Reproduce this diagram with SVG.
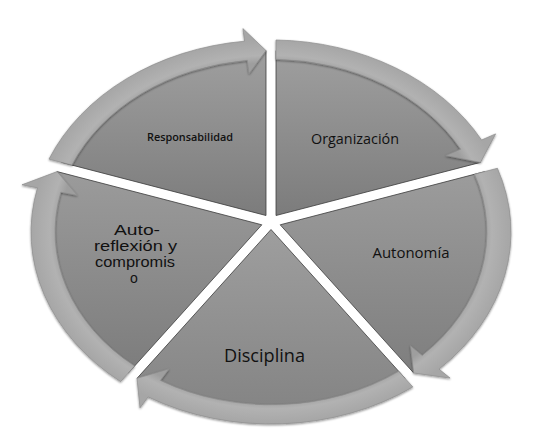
<svg xmlns="http://www.w3.org/2000/svg" width="539" height="448" viewBox="0 0 539 448">
<style>
.wedge{stroke:#3c3c3c;stroke-width:0.8;stroke-linejoin:round}
.band{fill:url(#bandGrad);stroke:#8e8e8e;stroke-width:0.7;stroke-linejoin:round;filter:url(#sh)}
.lbl{font-family:"Open Sans","Liberation Sans",sans-serif;fill:#111111;text-anchor:middle}
.ml{font-family:"Liberation Sans",Arial,sans-serif;fill:#111111;text-anchor:middle;font-size:14px}
</style>
<defs>
<filter id="sh" x="-10%" y="-10%" width="120%" height="120%">
<feDropShadow dx="0" dy="1" stdDeviation="1.2" flood-color="#000" flood-opacity="0.45"/>
</filter>
<radialGradient id="bandGrad" gradientUnits="userSpaceOnUse" cx="271" cy="232" r="240" gradientTransform="translate(271 232) scale(1 0.8) translate(-271 -232)">
<stop offset="0.88" stop-color="#9e9e9e"/>
<stop offset="0.92" stop-color="#b2b2b2"/>
<stop offset="1" stop-color="#a6a6a6"/>
</radialGradient>
<linearGradient id="g0" gradientUnits="userSpaceOnUse" x1="0" y1="45" x2="0" y2="215"><stop offset="0" stop-color="#a0a0a0"/><stop offset="1" stop-color="#7c7c7c"/></linearGradient>
<linearGradient id="g1" gradientUnits="userSpaceOnUse" x1="0" y1="172" x2="0" y2="375"><stop offset="0" stop-color="#9c9c9c"/><stop offset="1" stop-color="#7e7e7e"/></linearGradient>
<linearGradient id="g2" gradientUnits="userSpaceOnUse" x1="0" y1="230" x2="0" y2="412"><stop offset="0" stop-color="#9e9e9e"/><stop offset="1" stop-color="#848484"/></linearGradient>
<linearGradient id="g3" gradientUnits="userSpaceOnUse" x1="0" y1="165" x2="0" y2="375"><stop offset="0" stop-color="#9c9c9c"/><stop offset="1" stop-color="#7c7c7c"/></linearGradient>
</defs>
<rect width="539" height="448" fill="#ffffff"/>

<g id="node-organizacion">
<path class="wedge" fill="url(#g0)" d="M276,215.5 L276,50.6 A226.8,181.44 0 0 1 480.45,162.4 Z"/>
<text class="lbl" x="355" y="144" font-size="14.5" textLength="88" lengthAdjust="spacingAndGlyphs">Organización</text>
</g>
<g id="node-autonomia">
<path class="wedge" fill="url(#g1)" d="M280.2,224.8 L484.8,171.6 A226.8,181.44 0 0 1 413.7,373 Z"/>
<text class="lbl" x="411" y="258" font-size="14.5" textLength="77" lengthAdjust="spacingAndGlyphs">Autonomía</text>
</g>
<g id="node-disciplina">
<path class="wedge" fill="url(#g2)" d="M271,229.5 L405.1,378.4 A226.8,181.44 0 0 1 137,378.35 Z"/>
<text class="lbl" x="264.5" y="362" font-size="19" textLength="81" lengthAdjust="spacingAndGlyphs">Disciplina</text>
</g>
<g id="node-autorreflexion">
<path class="wedge" fill="url(#g3)" d="M261.8,224.8 L128.3,373 A226.8,181.44 0 0 1 57.1,171.6 Z"/>
<text class="ml" x="137" y="235" textLength="46" lengthAdjust="spacingAndGlyphs">Auto-</text>
<text class="ml" x="135.5" y="251" textLength="83" lengthAdjust="spacingAndGlyphs">reflexión y</text>
<text class="ml" x="135" y="267" textLength="80" lengthAdjust="spacingAndGlyphs">compromis</text>
<text class="ml" x="134" y="283">o</text>
</g>
<g id="node-responsabilidad">
<path class="wedge" fill="url(#g0)" d="M266,215.5 L61.6,162.4 A226.8,181.44 0 0 1 266,50.6 Z"/>
<text class="lbl" x="190" y="141" font-size="11" font-weight="600" textLength="86" lengthAdjust="spacingAndGlyphs">Responsabilidad</text>
</g>

<g id="connectors">
<path class="band" d="M276,59.25 A216,172.8 0 0 1 460.6,149.2 L445.8,155.6 L480.5,162.4 L495.6,133.9 L481.6,140 A240,192 0 0 0 276,40 Z"/>
<path class="band" d="M474.55,174.26 A216,172.8 0 0 1 422.2,355.4 L410.5,345.8 L413.7,373 L450.1,378.1 L439,369.1 A240,192 0 0 0 497.4,168.3 Z"/>
<path class="band" d="M398.75,371.35 A216,172.8 0 0 1 160.4,380.4 L169,368.9 L137,378.35 L140,407.8 L148.1,396.9 A240,192 0 0 0 412.8,386.95 Z"/>
<path class="band" d="M134.6,366 A216,172.8 0 0 1 60.8,192.2 L77.2,195.3 L57.1,171.6 L22,184.8 L37.5,187.8 A240,192 0 0 0 120.6,381.6 Z"/>
<path class="band" d="M71.9,165.1 A216,172.8 0 0 1 247.3,60.3 L249.1,73.6 L266,50.6 L242.9,28.6 L244.6,41.2 A240,192 0 0 0 49,159.1 Z"/>
</g>
</svg>
